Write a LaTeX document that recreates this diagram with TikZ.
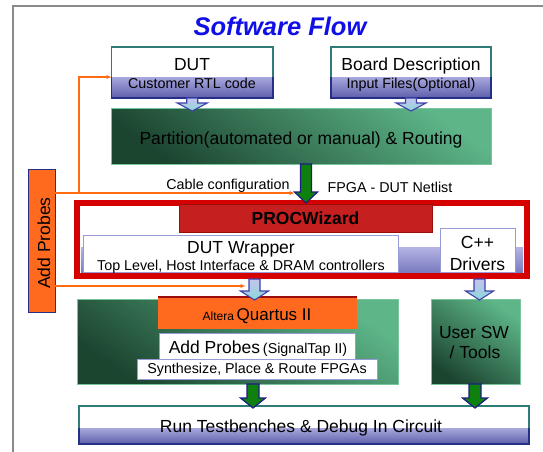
\documentclass[tikz,border=0pt]{standalone}
\usepackage{fontspec}
\setmainfont{Liberation Sans}
\usetikzlibrary{calc,arrows.meta}

\definecolor{framegray}{HTML}{8A8A8A}
\definecolor{titleblue}{HTML}{1010E6}
\definecolor{cteal}{HTML}{2E7B78}
\definecolor{cnavy}{HTML}{262F87}
\definecolor{lavA}{HTML}{A8A8DE}
\definecolor{lavB}{HTML}{5E5EAA}
\definecolor{lavC}{HTML}{B4B4E4}
\definecolor{lavD}{HTML}{7A7ABF}
\definecolor{lavedge}{HTML}{9A9AD8}
\definecolor{greenlt}{HTML}{5DB588}
\definecolor{greendk}{HTML}{1C4530}
\definecolor{greenedge}{HTML}{78C49C}
\definecolor{arrgreen}{HTML}{0E800E}
\definecolor{arrnavy}{HTML}{1E1E82}
\definecolor{arrblue}{HTML}{4040A8}
\definecolor{cyanA}{HTML}{C4C4EE}
\definecolor{cyanB}{HTML}{8CD8D8}
\definecolor{orline}{HTML}{FF6A13}
\definecolor{orfill}{HTML}{FF6A1E}
\definecolor{procframe}{HTML}{D50000}
\definecolor{procred}{HTML}{C51F1F}
\definecolor{procedge}{HTML}{9B0D0D}

\newcommand{\fbig}{\fontsize{17.5}{20}\selectfont}
\newcommand{\fmid}{\fontsize{14.3}{16}\selectfont}
\newcommand{\fsml}{\fontsize{12}{14}\selectfont}

% block arrow: style, from, to, shaft half width, head half width, head length
\newcommand{\blockarrow}[6]{\path[#1] let \p1=(#2), \p2=(#3) in
  (\x1-#4pt,\y1) -- (\x1+#4pt,\y1) -- (\x1+#4pt,\y2+#6pt) -- (\x1+#5pt,\y2+#6pt)
  -- (\x1,\y2) -- (\x1-#5pt,\y2+#6pt) -- (\x1-#4pt,\y2+#6pt) -- cycle;}

% two-tone box lower band: node name, band height
\newcommand{\twotone}[2]{%
  \shade[top color=lavA, bottom color=lavB] ($(#1.south west)+(0,-#2)$) rectangle (#1.south east);
  \draw[cnavy, line width=1.6pt] ($(#1.south west)+(0,-#2)$) -- (#1.south west) -- (#1.south east) -- ($(#1.south east)+(0,-#2)$);}

\begin{document}
\begin{tikzpicture}[x=1pt, y=-1pt,
  box/.style={rectangle, inner sep=0pt, outer sep=0pt, anchor=center},
  lbl/.style={anchor=base, inner sep=0pt, outer sep=0pt, text=black},
  topbox/.style={box, draw=cteal, line width=1.6pt, fill=white},
  greenbox/.style={box, top color=greenlt, bottom color=greendk, shading angle=-35, draw=greenedge, line width=0.8pt},
  whitebox/.style={box, fill=white, draw=lavedge, line width=0.6pt},
  smallarr/.style={top color=cyanA, bottom color=cyanB, draw=arrblue, line width=1.1pt},
  bigarr/.style={fill=arrgreen, draw=arrnavy, line width=1.2pt},
  orarrow/.style={draw=orline, line width=1.2pt, -{Latex[length=5pt,width=4.5pt]}}]

\useasboundingbox (0,0) rectangle (543,451);
\fill[white] (0,0) rectangle (543,451);
\draw[framegray, line width=2pt] (12.5,452) -- (12.5,6) -- (544,6);

% title
\node[lbl, font=\bfseries\itshape\fontsize{25.5}{30}\selectfont, text=titleblue] (title) at (280,35) {Software Flow};

% PROCWizard frame and title bar (drawn early)
\node[box, minimum width=450pt, minimum height=73pt, draw=procframe, line width=6pt, fill=white] (proc) at (302,239.5) {};
\node[box, minimum width=253pt, minimum height=28pt, fill=procred, draw=procedge, line width=1pt] (pw) at (305.5,218) {};
\node[lbl, text=black, draw=none, font=\bfseries\fontsize{17.5}{20}\selectfont] (pwT) at (305.5,224) {PROCWizard};

% top input boxes
\node[topbox, minimum width=161.5pt, minimum height=51pt] (dut) at (192.25,72.5) {};
\twotone{dut}{21}
\node[lbl, font=\fbig] (dutT) at (192,70.5) {DUT};
\node[lbl, font=\fmid] (dutS) at (192,88.5) {Customer RTL code};

\node[topbox, minimum width=160pt, minimum height=51pt] (board) at (411,72.5) {};
\twotone{board}{21}
\node[lbl, font=\fbig] (bdT) at (411,70) {Board Description};
\node[lbl, font=\fmid] (bdS) at (411,88.5) {Input Files(Optional)};

% partition
\node[greenbox, minimum width=380pt, minimum height=56pt] (part) at (301,136) {};
\node[lbl, font=\fbig] (partT) at (301,144) {Partition(automated or manual) \& Routing};

\blockarrow{smallarr}{dut.south}{$(part.north)+(0,3)$}{5.5}{15}{8}
\blockarrow{smallarr}{board.south}{$(part.north)+(0,3)$}{5.5}{15}{8}

% labels between partition and PROCWizard
\node[lbl, font=\fmid] (cable) at (228,189) {Cable configuration};
\node[lbl, font=\fmid] (netlist) at (390,192) {FPGA - DUT Netlist};

% Add Probes side box
\node[box, minimum width=27pt, minimum height=143pt, fill=orfill, draw=cnavy, line width=1pt] (probes) at (41.5,240.5) {};
\node[lbl, font=\fbig, rotate=90] (probesT) at (50,243) {Add Probes};

% PROCWizard contents
\shade[top color=lavC, bottom color=lavD] (81,247) rectangle (523,272);
\node[whitebox, minimum width=315pt, minimum height=37pt] (wrap) at (240.5,253.5) {};
\node[lbl, font=\fbig] (wrapT) at (241,253) {DUT Wrapper};
\node[lbl, font=\fmid] (wrapS) at (241,270.7) {Top Level, Host Interface \& DRAM controllers};
\node[whitebox, minimum width=75pt, minimum height=44pt] (cpp) at (477.5,250) {};
\node[lbl, font=\fbig] (cppA) at (477.5,248.3) {C++};
\node[lbl, font=\fbig] (cppB) at (477.5,270) {Drivers};
\draw[procframe, line width=6pt] ($(proc.south west)+(0,-15)$) -- (proc.south west) -- (proc.south east) -- ($(proc.south east)+(0,-15)$);

% big netlist arrow
\blockarrow{bigarr}{$(part.south)+(5,0)$}{proc.north}{5.5}{11.5}{11}
\coordinate (cableend) at ($(part.south)+(-6.5,29)$);

% lower green boxes
\node[greenbox, minimum width=321pt, minimum height=85pt] (quartus) at (237.5,341.5) {};
\node[box, minimum width=199.4pt, minimum height=32pt, fill=orfill] (altera) at (257.3,313) {};
\draw[procedge, line width=1.5pt] (altera.north west) -- (altera.north east);
\node[lbl] (alteraT) at (257,320) {{\fsml Altera} {\fontsize{17}{20}\selectfont Quartus II}};
\node[whitebox, minimum width=196pt, minimum height=26pt] (addp) at (257,346) {};
\node[lbl] (addpT) at (258,353.3) {{\fbig Add Probes} {\fmid (SignalTap II)}};
\node[whitebox, minimum width=239.5pt, minimum height=20pt] (synth) at (257.25,369) {};
\node[lbl, font=\fmid] (synthT) at (257,373.3) {Synthesize, Place \& Route FPGAs};

\node[greenbox, minimum width=89pt, minimum height=85pt] (usersw) at (475.5,341.5) {};
\node[lbl, font=\fbig] (userA) at (474,338.3) {User SW};
\node[lbl, font=\fbig] (userB) at (475,358.3) {/ Tools};

% arrows out of PROCWizard
\coordinate (qarrow) at ($(proc.south -| quartus.north)+(17,3)$);
\blockarrow{smallarr}{qarrow}{$(quartus.north)+(0,1)$}{5.5}{14}{9}
\blockarrow{smallarr}{$(cpp.south)+(2,7)$}{$(usersw.north)+(0,1)$}{5.5}{14}{9}

% run box
\node[topbox, minimum width=450pt, minimum height=38pt] (run) at (304,425) {};
\twotone{run}{16}
\node[lbl, font=\fbig] (runT) at (301,432.7) {Run Testbenches \& Debug In Circuit};

\blockarrow{bigarr}{$(quartus.south)+(15.5,0)$}{$(run.north)+(0,2)$}{6}{12.5}{10}
\blockarrow{bigarr}{$(usersw.south)+(-0.5,0)$}{$(run.north)+(0,2)$}{6}{12.5}{10}

% orange probe connectors
\coordinate (turn) at ($(probes.east |- cableend)+(24,0)$);
\coordinate (probeend) at ($(qarrow)+(-9,7)$);
\draw[orarrow] (probes.east |- cableend) -- (cableend);
\draw[orarrow] (turn) |- ($(dut.south west)+(0,-21)$);
\draw[orarrow] (probes.east |- probeend) -- (probeend);
\end{tikzpicture}
\end{document}
